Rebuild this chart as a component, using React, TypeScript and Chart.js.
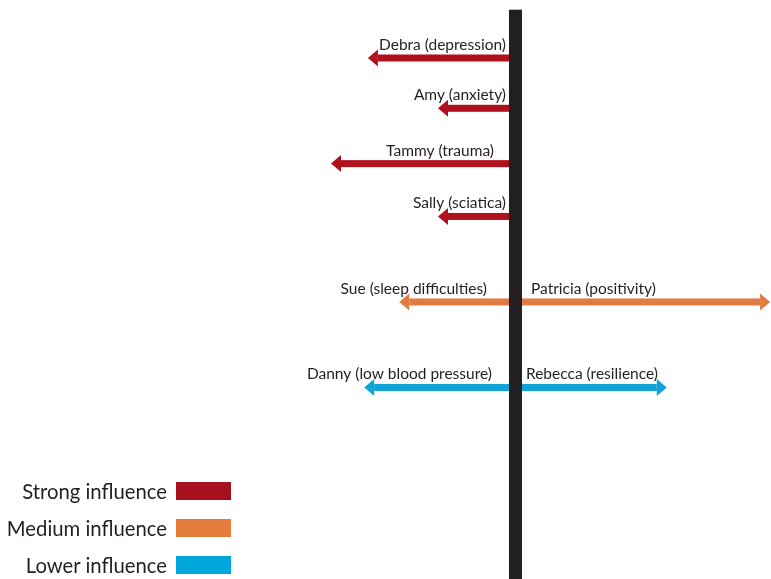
import { useEffect, useRef } from 'react';
import { Chart, registerables } from 'chart.js';

Chart.register(...registerables);

// one entry per arrow
const people = [
  'Debra (depression)',
  'Amy (anxiety)',
  'Tammy (trauma)',
  'Sally (sciatica)',
  'Sue (sleep difficulties)',
  'Patricia (positivity)',
  'Danny (low blood pressure)',
  'Rebecca (resilience)',
];
// negative = pulls to the left, positive = pushes to the right
const influence = [-8, -4.2, -10, -4.2, -6.3, 13.8, -8.2, 8.2];
// vertical row of each arrow (1 = top)
const level = [1, 2, 3.1, 4.15, 5.85, 5.85, 7.55, 7.55];
const strength = [0, 0, 0, 0, 1, 1, 2, 2];
const legendLabels = ['Strong influence', 'Medium influence', 'Lower influence'];

const arrowColors = ['#B0121D', '#E07B41', '#0FA3D8'];
const legendColors = ['#A50F1E', '#E57E3C', '#00A7DA'];
const labelGap = [3, 3, 15, 3, 22, 9, 17, 4];
const axisTop = 0.04;
const FONT = 'Lato, "Open Sans", sans-serif';

const arrowPlugin = {
  id: 'influenceArrows',
  afterDatasetsDraw(chart: any) {
    const { ctx } = chart;
    const xs = chart.scales.x;
    const ys = chart.scales.y;
    const x0 = xs.getPixelForValue(0);
    const half = 6.5;

    ctx.save();
    chart.data.datasets.forEach((ds: any, i: number) => {
      const pts = chart.getDatasetMeta(i).data;
      const start = pts[0];
      const tip = pts[1];
      const dir = tip.x < start.x ? -1 : 1;
      const yy = tip.y;
      const headLen = 10;
      const headHalf = 8.5;
      const shaft = 7;
      const base = tip.x - dir * headLen;

      ctx.fillStyle = ds.borderColor;
      ctx.fillRect(Math.min(start.x, base), yy - shaft / 2, Math.abs(base - start.x), shaft);
      ctx.beginPath();
      ctx.moveTo(tip.x, yy);
      ctx.lineTo(base, yy - headHalf);
      ctx.lineTo(base, yy + headHalf);
      ctx.closePath();
      ctx.fill();

      ctx.fillStyle = '#231F20';
      ctx.font = `15.5px ${FONT}`;
      ctx.textBaseline = 'alphabetic';
      if (dir < 0) {
        ctx.textAlign = 'right';
        ctx.fillText(ds.label, x0 - half - labelGap[i], yy - 8);
      } else {
        ctx.textAlign = 'left';
        ctx.fillText(ds.label, x0 + half + labelGap[i], yy - 8);
      }
    });

    ctx.fillStyle = '#231F20';
    const top = ys.getPixelForValue(axisTop);
    ctx.fillRect(x0 - half, top, half * 2, chart.height - top);
    ctx.restore();
  },
};

export default function App() {
  const chartRef = useRef<HTMLCanvasElement | null>(null);

  useEffect(() => {
    if (!chartRef.current) return;
    const chart = new Chart(chartRef.current, {
      type: 'scatter',
      data: {
        datasets: people.map((name, i) => ({
          label: name,
          data: [
            { x: 0, y: level[i] },
            { x: influence[i], y: level[i] },
          ],
          borderColor: arrowColors[strength[i]],
          backgroundColor: arrowColors[strength[i]],
          pointRadius: 0,
          showLine: false,
        })),
      },
      options: {
        animation: false,
        responsive: false,
        layout: { padding: 0 },
        events: [],
        scales: {
          x: { type: 'linear', display: false, min: -27.94, max: 13.85 },
          y: { type: 'linear', display: false, reverse: true, min: -0.153, max: 11.358 },
        },
        plugins: {
          legend: { display: false },
          tooltip: { enabled: false },
        },
      },
      plugins: [arrowPlugin],
    });
    return () => chart.destroy();
  }, []);

  return (
    <div style={{ position: 'fixed', left: 0, top: 0, width: 771, height: 579, background: '#fff' }}>
      <canvas ref={chartRef} width={771} height={579}></canvas>
      <div style={{ position: 'absolute', left: 0, top: 472.5, width: 231 }}>
        {legendLabels.map((label, i) => (
          <div
            key={label}
            style={{
              height: 37,
              display: 'flex',
              alignItems: 'center',
              justifyContent: 'flex-end',
              gap: 9,
            }}
          >
            <span style={{ fontFamily: FONT, fontSize: 20.3, color: '#231F20' }}>{label}</span>
            <span style={{ width: 55, height: 18, background: legendColors[i], display: 'inline-block' }}></span>
          </div>
        ))}
      </div>
    </div>
  );
}
